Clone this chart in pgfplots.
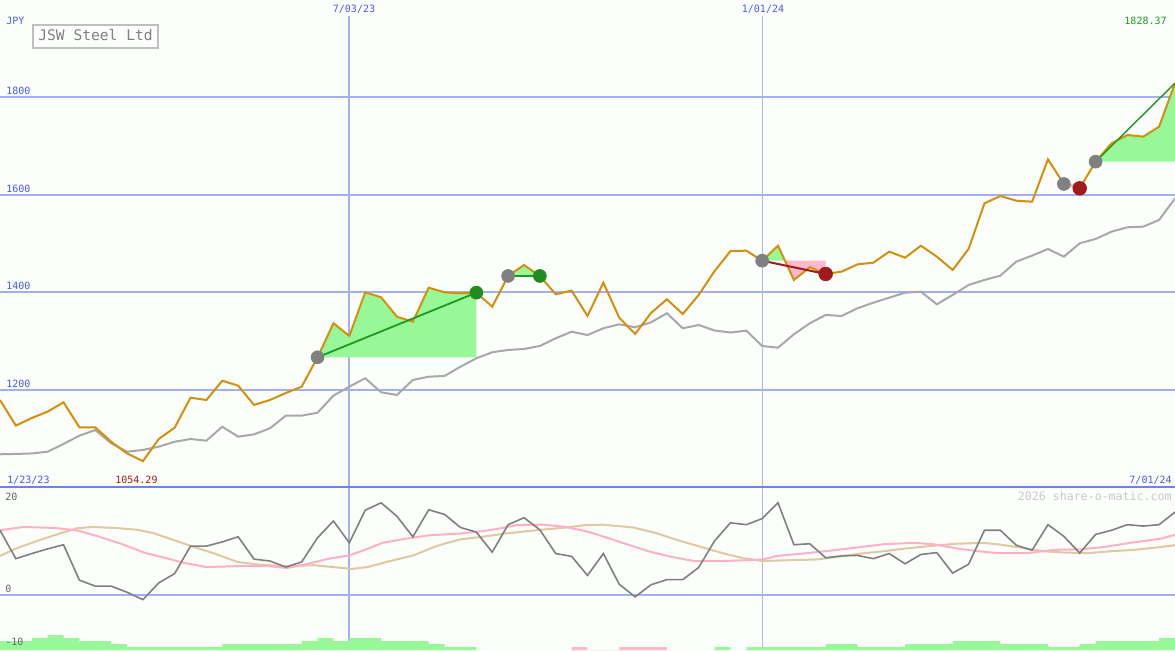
\documentclass[border=0pt]{standalone}
\usepackage{fontspec}
\setmonofont{DejaVu Sans Mono}
\usepackage{pgfplots}
\pgfplotsset{compat=1.18}
\usepackage{pgfplotstable}

\definecolor{bgc}{HTML}{FCFEFC}
\definecolor{gridb}{HTML}{A0B0F0}
\definecolor{sepb}{HTML}{7080F0}
\definecolor{lblb}{HTML}{4A5AF0}
\definecolor{vline2}{HTML}{B0B8E0}
\definecolor{pricec}{HTML}{D4900C}
\definecolor{mac}{HTML}{A8A8A8}
\definecolor{fillg}{HTML}{98F898}
\definecolor{fillp}{HTML}{FFB8CC}
\definecolor{trendg}{HTML}{209820}
\definecolor{dotg}{HTML}{208C20}
\definecolor{trendr}{HTML}{A01C1C}
\definecolor{dotgray}{HTML}{808080}
\definecolor{oscg}{HTML}{808080}
\definecolor{oscp}{HTML}{FFB0C8}
\definecolor{osct}{HTML}{E0C8A0}
\definecolor{wmark}{HTML}{C8C8C8}

% weekly data: week index (0 = 7/03/23), close, long average, oscillator
\pgfplotstableread{
w   price   ma      osc
-22 1179.5  1068.3  13.9
-21 1127.0  1069.0  7.8
-20 1142.6  1070.0  8.9
-19 1155.6  1073.6  9.9
-18 1174.8  1089.4  10.8
-17 1123.6  1106.4  3.2
-16 1123.6  1118.0  1.9
-15 1094.0  1090.8  1.9
-14 1070.0  1073.6  0.6
-13 1054.29 1077.1  -1.0
-12 1099.6  1083.9  2.6
-11 1122.8  1094.0  4.6
-10 1184.2  1099.6  10.5
-9  1179.5  1096.2  10.5
-8  1219.0  1124.8  11.4
-7  1208.8  1104.4  12.5
-6  1169.3  1109.1  7.7
-5  1179.5  1121.5  7.3
-4  1193.9  1147.4  6.0
-3  1206.8  1147.4  7.1
-2  1267.0  1153.5  12.3
-1  1336.6  1188.4  15.9
0   1310.6  1206.8  11.2
1   1400.0  1224.0  18.2
2   1389.9  1195.3  19.8
3   1350.0  1189.8  16.9
4   1339.9  1220.5  12.5
5   1409.5  1227.2  18.3
6   1400.0  1228.7  17.3
7   1398.0  1247.7  14.5
8   1399.3  1264.9  13.5
9   1370.6  1277.2  9.2
10  1433.5  1281.9  15.1
11  1456.0  1284.0  16.6
12  1433.5  1290.1  14.0
13  1396.0  1305.9  8.9
14  1403.4  1319.4  8.3
15  1351.6  1312.6  4.2
16  1419.8  1326.3  8.9
17  1348.0  1334.5  2.3
18  1314.7  1328.4  -0.4
19  1357.7  1338.6  2.2
20  1385.7  1357.1  3.3
21  1355.6  1326.3  3.3
22  1394.5  1333.1  5.9
23  1443.4  1321.8  11.6
24  1484.2  1317.7  15.5
25  1485.3  1321.5  15.1
26  1464.8  1290.1  16.4
27  1495.5  1286.6  19.8
28  1425.3  1314.1  10.8
29  1451.3  1336.6  11.0
30  1437.6  1353.6  8.0
31  1442.3  1351.6  8.4
32  1457.2  1367.3  8.5
33  1460.7  1378.8  7.8
34  1483.2  1389.0  8.9
35  1471.0  1399.2  6.7
36  1495.5  1401.3  8.7
37  1473.0  1375.5  9.1
38  1445.8  1394.6  4.7
39  1488.8  1415.0  6.6
40  1582.2  1425.3  13.9
41  1597.3  1434.1  13.9
42  1587.7  1462.8  10.7
43  1585.6  1475.1  9.6
44  1672.3  1488.8  15.1
45  1621.9  1473.0  12.6
46  1613.0  1500.4  9.0
47  1667.6  1509.2  13.0
48  1705.0  1524.2  13.9
49  1722.2  1533.2  15.1
50  1718.8  1534.5  14.8
51  1739.3  1548.2  15.1
52  1828.37 1592.5  17.8
}\weekly

% smooth signal lines of the lower panel
\pgfplotstableread{
w      v
-22    13.9
-20.55 14.6
-18.62 14.4
-17.18 13.9
-15.73 12.5
-14.29 10.9
-12.84 9.0
-11.39 7.8
-10.43 6.9
-8.98  6.0
-7.05  6.2
-5.12  6.2
-3.92  5.8
-2.73  6.6
-1.28  7.8
0      8.5
1.14   9.9
2.10   11.2
3.55   12.1
4.99   12.8
6.92   13.2
8.37   13.7
9.33   14.2
10.54  15.0
12.22  15.1
13.67  14.6
15.12  13.5
15.96  12.6
17.39  11.0
18.83  9.4
20.26  8.2
21.70  7.3
23.61  7.3
26.0   7.6
26.95  8.4
28.87  9.0
31.26  9.9
33.65  10.9
35.56  11.2
36.76  10.9
38.43  9.9
39.63  9.4
40.82  9.0
42.73  9.0
44.41  9.7
46.08  9.8
47.51  10.3
49.19  11.2
51.10  12.1
52     12.9
}\pinksig

\pgfplotstableread{
w      v
-22    8.4
-21.04 9.9
-19.59 11.7
-18.15 13.3
-17.18 14.3
-16.22 14.6
-14.77 14.4
-13.32 14.0
-12.36 13.3
-11.15 11.9
-9.95  10.5
-8.50  8.9
-7.05  7.1
-5.61  6.5
-3.92  6.2
-2.24  6.4
-1.03  6.0
0.17   5.6
1.14   6.0
2.59   7.3
4.03   8.5
5.48   10.5
6.92   11.9
8.37   12.5
9.82   13.2
11.74  13.9
13.67  14.5
14.87  15.0
15.96  15.1
17.87  14.5
19.31  13.3
20.74  11.7
22.17  10.3
23.61  8.9
24.81  7.9
26.0   7.3
27.91  7.5
29.35  7.6
30.78  8.2
32.21  8.9
33.65  9.4
35.09  10.0
36.51  10.5
38.19  11.0
39.86  11.2
40.82  10.9
42.25  10.2
43.69  9.4
45.12  9.1
46.55  9.0
48.01  9.4
49.42  9.7
50.86  10.2
52     10.7
}\tansig

\begin{document}
\begin{tikzpicture}
\fill[bgc] (0,0) rectangle (587.5pt,325pt);

% ---------- price panel ----------
\begin{axis}[
  at={(0,81.5pt)}, anchor=south west,
  scale only axis, width=587.5pt, height=243.5pt,
  xmin=-22, xmax=52, ymin=1001.3, ymax=1998.7,
  axis line style={draw=none},
  xtick=\empty,
  ytick={1200,1400,1600,1800},
  yticklabels={1200,1400,1600,1800},
  major tick length=0pt,
  ymajorgrids,
  major grid style={gridb, line width=1pt},
  /pgf/number format/assume math mode=true,
  yticklabel style={anchor=south west, inner sep=0pt, xshift=3pt, yshift=1pt,
    font=\ttfamily\fontsize{5}{6}\selectfont, text=lblb},
]
\draw[gridb, line width=1pt] (axis cs:0,1001.3) -- (axis cs:0,1966);
\draw[vline2, line width=0.5pt] (axis cs:26,1001.3) -- (axis cs:26,1966);

% shaded moves
\addplot[fill=fillg, draw=none] coordinates {(-2,1267) (-1,1336.6) (0,1310.6) (1,1400) (2,1389.9) (3,1350) (4,1339.9) (5,1409.5) (6,1400) (7,1398) (8,1399.3) (8,1267)};
\addplot[fill=fillg, draw=none] coordinates {(10,1433.5) (11,1456) (12,1433.5)};
\addplot[fill=fillg, draw=none] coordinates {(26,1464.8) (27,1495.5) (27.44,1464.8)};
\addplot[fill=fillp, draw=none] coordinates {(27.44,1464.8) (28,1425.3) (29,1451.3) (30,1437.6) (30,1464.8)};
\addplot[fill=fillp, draw=none] coordinates {(45,1621.9) (46,1613) (46,1621.9)};
\addplot[fill=fillg, draw=none] coordinates {(47,1667.6) (48,1705) (49,1722.2) (50,1718.8) (51,1739.3) (52,1828.37) (52,1667.6)};

\addplot[mac, line width=1pt] table[x=w, y=ma] {\weekly};
\addplot[only marks, mark=*, mark size=3.2pt, dotgray] coordinates {(-2,1267) (10,1433.5) (26,1464.8) (45,1621.9) (47,1667.6)};
\addplot[pricec, line width=1pt] table[x=w, y=price] {\weekly};

\addplot[trendg, line width=0.9pt] coordinates {(-2,1267) (8,1399.3)};
\addplot[trendg, line width=1.3pt] coordinates {(10,1433.5) (12,1433.5)};
\addplot[trendr, line width=1pt] coordinates {(26,1464.8) (30,1437.6)};
\addplot[fillp, line width=1pt] coordinates {(45,1621.9) (46,1613)};
\addplot[trendg, line width=0.7pt] coordinates {(47,1667.6) (52,1828.37)};
\addplot[only marks, mark=*, mark size=3.2pt, dotg] coordinates {(8,1399.3) (12,1433.5)};
\addplot[only marks, mark=*, mark size=3.4pt, trendr] coordinates {(30,1437.6) (46,1613)};
\end{axis}

% ---------- oscillator panel ----------
\begin{axis}[
  at={(0,0)}, anchor=south west,
  scale only axis, width=587.5pt, height=81.5pt,
  xmin=-22, xmax=52, ymin=-11.81, ymax=23.19,
  axis line style={draw=none},
  xtick=\empty, ytick={0}, yticklabels={},
  major tick length=0pt,
  ymajorgrids,
  major grid style={gridb, line width=1pt},
]
\draw[gridb, line width=1pt] (axis cs:0,-11.81) -- (axis cs:0,23.19);
\draw[vline2, line width=0.5pt] (axis cs:26,-11.81) -- (axis cs:26,23.19);
\addplot[osct, line width=1pt] table[x=w, y=v] {\tansig};
\addplot[oscp, line width=1pt] table[x=w, y=v] {\pinksig};
\addplot[oscg, line width=0.8pt] table[x=w, y=osc] {\weekly};
\end{axis}

% ---------- histogram strip ----------
\begin{axis}[
  at={(0,0)}, anchor=south west,
  scale only axis, width=587.5pt, height=81.5pt,
  xmin=-22, xmax=52, ymin=0, ymax=54.33,
  hide axis,
]
\addplot[const plot, fill=fillg, draw=none] coordinates {
  (-22,3) (-20,4) (-19,5) (-18,4) (-17,3) (-15,2) (-14,1) (-8,2) (-3,3) (-2,4)
  (-1,3) (0,4) (2,3) (5,2) (6,1) (8,0) (23,1) (24,0) (25,1) (30,2) (32,1) (35,2)
  (38,3) (41,2) (44,1) (46,2) (47,3) (51,4) (52,4) (52,0) (-22,0)};
\addplot[const plot, fill=fillp, draw=none] coordinates {
  (14,1) (15,0) (17,1) (20,0) (20,0) (14,0)};
\end{axis}

\draw[sepb, line width=1pt] (0,81.5pt) -- (587.5pt,81.5pt);

% ---------- texts (pixel positions of the 1175x650 frame) ----------
\begin{scope}[x=0.5pt, y=-0.5pt, yshift=325pt,
  every node/.style={inner sep=0pt, font=\ttfamily\fontsize{5}{6}\selectfont}]
\node[anchor=base west, text=lblb] at (6,24.5) {JPY};
\node[anchor=base, text=lblb, fill=bgc, inner sep=1pt] at (354,12.7) {7/03/23};
\node[anchor=base, text=lblb, fill=bgc, inner sep=1pt] at (763,12.7) {1/01/24};
\node[anchor=base east, text=trendg] at (1167,25) {1828.37};
\draw[black!25, line width=1pt, fill=bgc] (32.5,24.5) rectangle (158,48);
\node[anchor=base, text=dotgray, font=\ttfamily\fontsize{7.3}{8}\selectfont] at (95.5,40.7) {JSW Steel Ltd};
\node[anchor=base west, text=lblb] at (7,483) {1/23/23};
\node[anchor=base west, text=trendr] at (115,483) {1054.29};
\node[anchor=base east, text=lblb] at (1172,483) {7/01/24};
\node[anchor=base east, text=wmark, font=\ttfamily\fontsize{5.8}{7}\selectfont] at (1172,500) {2026 share-o-matic.com};
\node[anchor=base west, text=black!60] at (5,500) {20};
\node[anchor=base west, text=black!60] at (5,592) {0};
\node[anchor=base west, text=black!60] at (5,645.5) {-10};
\end{scope}

\pgfresetboundingbox
\path (0,0) rectangle (587.5pt,325pt);
\end{tikzpicture}
\end{document}
